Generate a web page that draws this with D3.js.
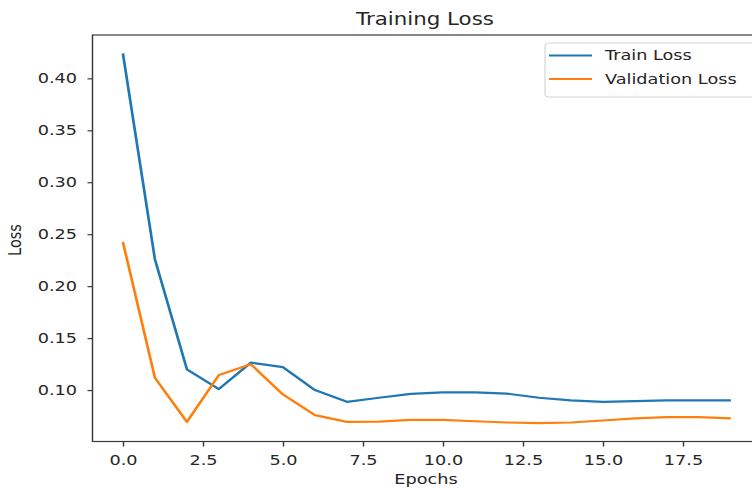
<!DOCTYPE html>
<html>
<head>
<meta charset="utf-8">
<script src="https://cdn.jsdelivr.net/npm/d3@7"></script>
<style>
  body { margin: 0; background: #fff; }
  text { font-family: "DejaVu Sans", sans-serif; fill: #262626; }
</style>
</head>
<body>
<script>
const WIDTH = 752;
const HEIGHT = 488;
// the picture is stretched sideways, so draw in a narrower box and scale x
const SX = 1.22;

const epochs = d3.range(20);
const trainLoss = [0.424, 0.226, 0.120, 0.101, 0.1264, 0.122, 0.100, 0.0887, 0.0926, 0.0964,
  0.0978, 0.0978, 0.0966, 0.0926, 0.0900, 0.0887, 0.0894, 0.0900, 0.0900, 0.0900];
const valLoss = [0.2425, 0.1119, 0.0694, 0.1145, 0.1248, 0.0958, 0.0759, 0.0694, 0.0697, 0.0713,
  0.0713, 0.0700, 0.0688, 0.0681, 0.0688, 0.0707, 0.0727, 0.0739, 0.0739, 0.0727];
const xTicks = [0, 2.5, 5, 7.5, 10, 12.5, 15, 17.5];
const yTicks = [0.10, 0.15, 0.20, 0.25, 0.30, 0.35, 0.40];
const seriesNames = ["Train Loss", "Validation Loss"];
const colors = ["#1f77b4", "#ff7f0e"];

const plotL = 92.5, plotR = 761.3, plotT = 35, plotB = 441.5;

var svg = d3.select("body").append("svg")
  .attr("width", WIDTH).attr("height", HEIGHT)
  .attr("viewBox", `0 0 ${WIDTH / SX} ${HEIGHT}`)
  .attr("preserveAspectRatio", "none");

var x = d3.scaleLinear().domain([-0.95, 19.95]).range([plotL / SX, plotR / SX]);
var y = d3.scaleLinear().domain([0.0505, 0.4417]).range([plotB, plotT]);

// series
[trainLoss, valLoss].forEach((vals, i) => {
  svg.append("path")
    .datum(vals)
    .attr("fill", "none")
    .attr("stroke", colors[i])
    .attr("stroke-width", 2.2)
    .attr("stroke-linejoin", "round")
    .attr("d", d3.line().x((d, j) => x(epochs[j])).y((d) => y(d)));
});

// spines
svg.append("rect")
  .attr("x", plotL / SX).attr("y", plotT)
  .attr("width", (plotR - plotL) / SX).attr("height", plotB - plotT)
  .attr("fill", "none").attr("stroke", "#3a3a3a").attr("stroke-width", 1.2);

var xAxis = svg.append("g")
  .attr("transform", `translate(0,${plotB})`)
  .call(d3.axisBottom(x).tickValues(xTicks).tickFormat(d3.format(".1f"))
    .tickSize(5).tickPadding(8));
var yAxis = svg.append("g")
  .attr("transform", `translate(${plotL / SX},0)`)
  .call(d3.axisLeft(y).tickValues(yTicks).tickFormat(d3.format(".2f"))
    .tickSize(5 / SX).tickPadding(10.5 / SX));

[xAxis, yAxis].forEach((g) => {
  g.select(".domain").remove();
  g.selectAll(".tick line").attr("stroke", "#3a3a3a").attr("stroke-width", 1.2);
  g.selectAll("text").attr("font-size", 14.5).attr("fill", "#262626")
    .attr("font-family", "DejaVu Sans, sans-serif");
});

// title and axis labels
svg.append("text")
  .attr("x", 425 / SX).attr("y", 25)
  .attr("text-anchor", "middle").attr("font-size", 17.5)
  .text("Training Loss");
svg.append("text")
  .attr("x", 426 / SX).attr("y", 484)
  .attr("text-anchor", "middle").attr("font-size", 14.5)
  .text("Epochs");
svg.append("text")
  .attr("transform", `translate(${21 / SX},${240}) rotate(-90)`)
  .attr("text-anchor", "middle").attr("font-size", 14.5)
  .text("Loss");

// legend
var legend = svg.append("g");
legend.append("rect")
  .attr("x", 545 / SX).attr("y", 43)
  .attr("width", (755 - 545) / SX).attr("height", 54)
  .attr("rx", 3)
  .attr("fill", "#fff").attr("fill-opacity", 0.8)
  .attr("stroke", "#d6d6d6").attr("stroke-width", 1);

var items = legend.selectAll("g.item").data(seriesNames).enter()
  .append("g").attr("class", "item");
items.append("line")
  .attr("x1", 549 / SX).attr("x2", 592 / SX)
  .attr("y1", (d, i) => 55.5 + i * 23.5).attr("y2", (d, i) => 55.5 + i * 23.5)
  .attr("stroke", (d, i) => colors[i]).attr("stroke-width", 2.2);
items.append("text")
  .attr("x", 605 / SX)
  .attr("y", (d, i) => 55.5 + i * 23.5 + 5)
  .attr("font-size", 14.5)
  .text((d) => d);
</script>
</body>
</html>
